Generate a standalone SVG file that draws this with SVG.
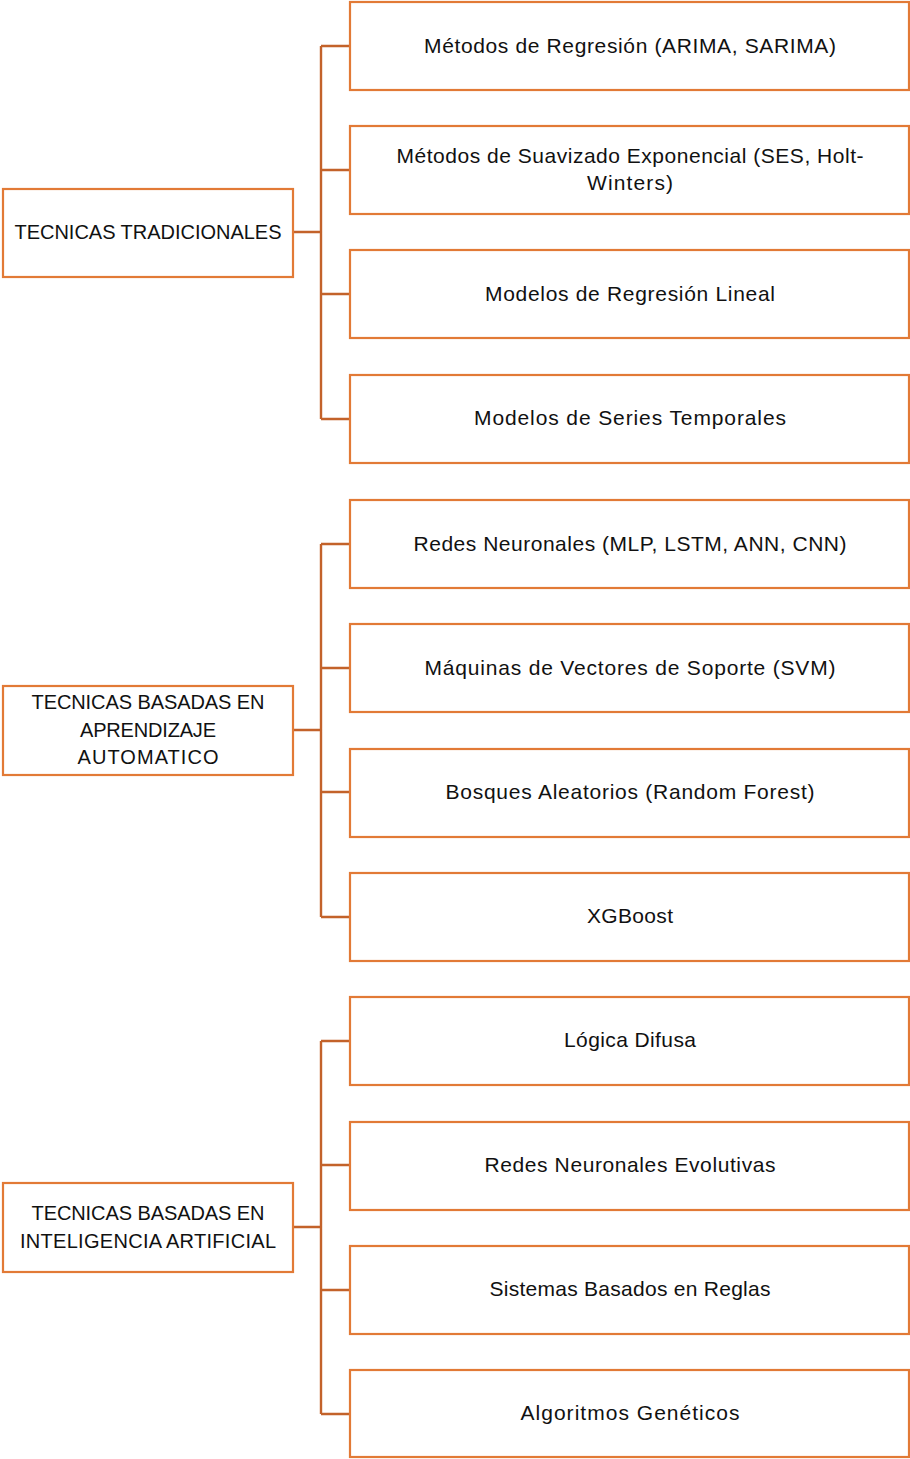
<svg xmlns="http://www.w3.org/2000/svg" width="910" height="1459" viewBox="0 0 910 1459">
<style>
.box{fill:#fff;stroke:#E27A36;stroke-width:2.2}
.con{fill:none;stroke:#C3622A;stroke-width:2.4}
text{font-family:"Liberation Sans",Arial,sans-serif;font-size:21px;fill:#111;text-anchor:middle}
.l{font-size:20px}
</style>
<rect width="910" height="1459" fill="#fff"/>
<g id="connectors">
<path class="con" d="M293,232H321M321,46V419M321,46H350M321,170H350M321,294H350M321,419H350"/>
<path class="con" d="M293,730H321M321,544V917M321,544H350M321,668H350M321,792H350M321,917H350"/>
<path class="con" d="M293,1227H321M321,1041V1414M321,1041H350M321,1165H350M321,1290H350M321,1414H350"/>
</g>
<g id="n-trad"><rect class="box" x="3" y="189" width="290" height="88"/><text class="l" x="148" y="239" textLength="267" lengthAdjust="spacing">TECNICAS TRADICIONALES</text></g>
<g id="n-ml"><rect class="box" x="3" y="686" width="290" height="89"/><text class="l" x="148" y="709" textLength="233" lengthAdjust="spacing">TECNICAS BASADAS EN</text><text class="l" x="148" y="737" textLength="136" lengthAdjust="spacing">APRENDIZAJE</text><text class="l" x="148" y="764" textLength="141" lengthAdjust="spacing">AUTOMATICO</text></g>
<g id="n-ia"><rect class="box" x="3" y="1183" width="290" height="89"/><text class="l" x="148" y="1220" textLength="233" lengthAdjust="spacing">TECNICAS BASADAS EN</text><text class="l" x="148" y="1248" textLength="256" lengthAdjust="spacing">INTELIGENCIA ARTIFICIAL</text></g>
<g id="n1"><rect class="box" x="350" y="2" width="559" height="88"/><text x="630" y="53" textLength="412" lengthAdjust="spacing">Métodos de Regresión (ARIMA, SARIMA)</text></g>
<g id="n2"><rect class="box" x="350" y="126" width="559" height="88"/><text x="630" y="163" textLength="467" lengthAdjust="spacing">Métodos de Suavizado Exponencial (SES, Holt-</text><text x="630" y="190" textLength="86" lengthAdjust="spacing">Winters)</text></g>
<g id="n3"><rect class="box" x="350" y="250" width="559" height="88"/><text x="630" y="301" textLength="290" lengthAdjust="spacing">Modelos de Regresión Lineal</text></g>
<g id="n4"><rect class="box" x="350" y="375" width="559" height="88"/><text x="630" y="425" textLength="312" lengthAdjust="spacing">Modelos de Series Temporales</text></g>
<g id="n5"><rect class="box" x="350" y="500" width="559" height="88"/><text x="630" y="551" textLength="433" lengthAdjust="spacing">Redes Neuronales (MLP, LSTM, ANN, CNN)</text></g>
<g id="n6"><rect class="box" x="350" y="624" width="559" height="88"/><text x="630" y="675" textLength="411" lengthAdjust="spacing">Máquinas de Vectores de Soporte (SVM)</text></g>
<g id="n7"><rect class="box" x="350" y="749" width="559" height="88"/><text x="630" y="799" textLength="369" lengthAdjust="spacing">Bosques Aleatorios (Random Forest)</text></g>
<g id="n8"><rect class="box" x="350" y="873" width="559" height="88"/><text x="630" y="923" textLength="86" lengthAdjust="spacing">XGBoost</text></g>
<g id="n9"><rect class="box" x="350" y="997" width="559" height="88"/><text x="630" y="1047" textLength="132" lengthAdjust="spacing">Lógica Difusa</text></g>
<g id="n10"><rect class="box" x="350" y="1122" width="559" height="88"/><text x="630" y="1172" textLength="291" lengthAdjust="spacing">Redes Neuronales Evolutivas</text></g>
<g id="n11"><rect class="box" x="350" y="1246" width="559" height="88"/><text x="630" y="1296" textLength="281" lengthAdjust="spacing">Sistemas Basados en Reglas</text></g>
<g id="n12"><rect class="box" x="350" y="1370" width="559" height="87"/><text x="630" y="1420" textLength="219" lengthAdjust="spacing">Algoritmos Genéticos</text></g>
</svg>
